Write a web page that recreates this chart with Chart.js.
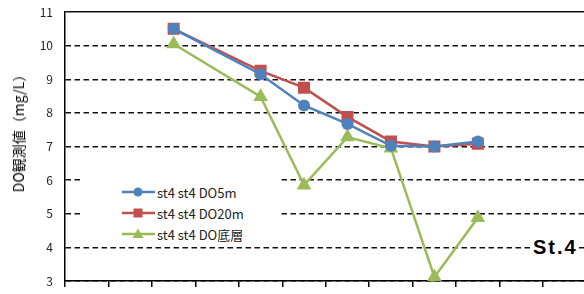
<!DOCTYPE html>
<html>
<head>
<meta charset="utf-8">
<script src="https://cdn.jsdelivr.net/npm/chart.js@4/dist/chart.umd.min.js"></script>
<style>
  body { margin: 0; width: 584px; height: 294px; overflow: hidden; background: #fff; font-family: "Noto Sans CJK JP", sans-serif; }
  #wrap { position: relative; width: 595px; height: 294px; }
  #yTitle { position: absolute; left: 18px; top: 130px; transform: translate(-50%, -50%) rotate(-90deg); white-space: nowrap; font-size: 14px; color: #000; }
  #legend { position: absolute; left: 82px; top: 172px; width: 198px; height: 74px; background: #fff; }
  .row { position: absolute; left: 0; height: 20px; display: flex; align-items: center; font-size: 13px; color: #222; white-space: nowrap; }
  .row svg { margin-left: 40px; margin-right: 2px; }
  #station { position: absolute; left: 532px; top: 236px; padding: 0 1px; background: #fff; font: bold 20px "Liberation Sans", Arial, sans-serif; letter-spacing: 2px; color: #000; }
</style>
</head>
<body>
<div id="wrap">
  <canvas id="chart" width="595" height="294"></canvas>
  <div id="yTitle">DO観測値（mg/L）</div>
  <div id="legend"></div>
  <div id="station">St.4</div>
</div>
<script>
// categories (x labels are cut off in the picture)
const months = ['4月', '5月', '6月', '7月', '8月', '9月', '10月', '11月', '12月', '1月', '2月', '3月'];
const do5m   = [null, null, 10.5, null, 9.15, 8.22, 7.67, 7.02, 7.0, 7.15, null, null];
const do20m  = [null, null, 10.5, null, 9.25, 8.75, 7.88, 7.15, 7.0, 7.08, null, null];
const doBottom = [null, null, 10.05, null, 8.48, 5.85, 7.28, 6.95, 3.12, 4.88, null, null];
const yTicks = [3, 4, 5, 6, 7, 8, 9, 10, 11];

const series = [
  { label: 'st4 st4 DO5m', data: do5m, color: '#4F81BD', style: 'circle', r: 6 },
  { label: 'st4 st4 DO20m', data: do20m, color: '#C0504D', style: 'rect', r: 8.5 },
  { label: 'st4 st4 DO底層', data: doBottom, color: '#9BBB59', style: 'triangle', r: 8.5 }
];

const noPad = s => { s.paddingTop = 0; s.paddingBottom = 0; s.paddingLeft = 0; s.paddingRight = 0; };

const chart = new Chart(document.getElementById('chart'), {
  type: 'line',
  data: {
    labels: months,
    datasets: series.map(s => ({
      label: s.label,
      data: s.data,
      borderColor: s.color,
      backgroundColor: s.color,
      borderWidth: 2.5,
      pointStyle: s.style,
      pointRadius: s.r,
      pointBorderWidth: 0,
      spanGaps: true,
      tension: 0
    }))
  },
  options: {
    responsive: false,
    animation: false,
    layout: { padding: { left: 0, top: 12, right: 3, bottom: 0 } },
    plugins: { legend: { display: false }, tooltip: { enabled: false } },
    scales: {
      x: {
        offset: true,
        grid: { offset: true, drawOnChartArea: false, drawTicks: true, tickLength: 6, color: '#000', lineWidth: 1.5 },
        border: { display: true, color: '#000', width: 1.5 },
        ticks: { display: false },
        afterFit: s => { s.height = 13; noPad(s); }
      },
      y: {
        min: 3,
        max: 11,
        afterBuildTicks: s => { s.ticks = yTicks.map(v => ({ value: v })); },
        grid: { drawTicks: false, color: '#111', lineWidth: 1.5 },
        border: {
          display: true, color: '#000', width: 1.5,
          dash: ctx => (ctx.tick && ctx.tick.value === 11) ? [] : [5.5, 3.5]
        },
        ticks: { padding: 12, color: '#222', font: { family: 'Noto Sans CJK JP', size: 12 } },
        afterFit: s => { s.width = 65; noPad(s); }
      }
    }
  }
});

// legend built from the datasets
const legend = document.getElementById('legend');
series.forEach((s, i) => {
  const row = document.createElement('div');
  row.className = 'row';
  row.style.top = (10 + i * 21) + 'px';
  let mark = '';
  if (s.style === 'circle') mark = `<circle cx="16" cy="10" r="4.5" fill="${s.color}"/>`;
  else if (s.style === 'rect') mark = `<rect x="11.5" y="5.5" width="9" height="9" fill="${s.color}"/>`;
  else mark = `<polygon points="16,4.5 21.5,14 10.5,14" fill="${s.color}"/>`;
  row.innerHTML = `<svg width="33" height="20"><line x1="0" y1="10" x2="33" y2="10" stroke="${s.color}" stroke-width="2.5"/>${mark}</svg><span>${s.label}</span>`;
  legend.appendChild(row);
});
</script>
</body>
</html>
